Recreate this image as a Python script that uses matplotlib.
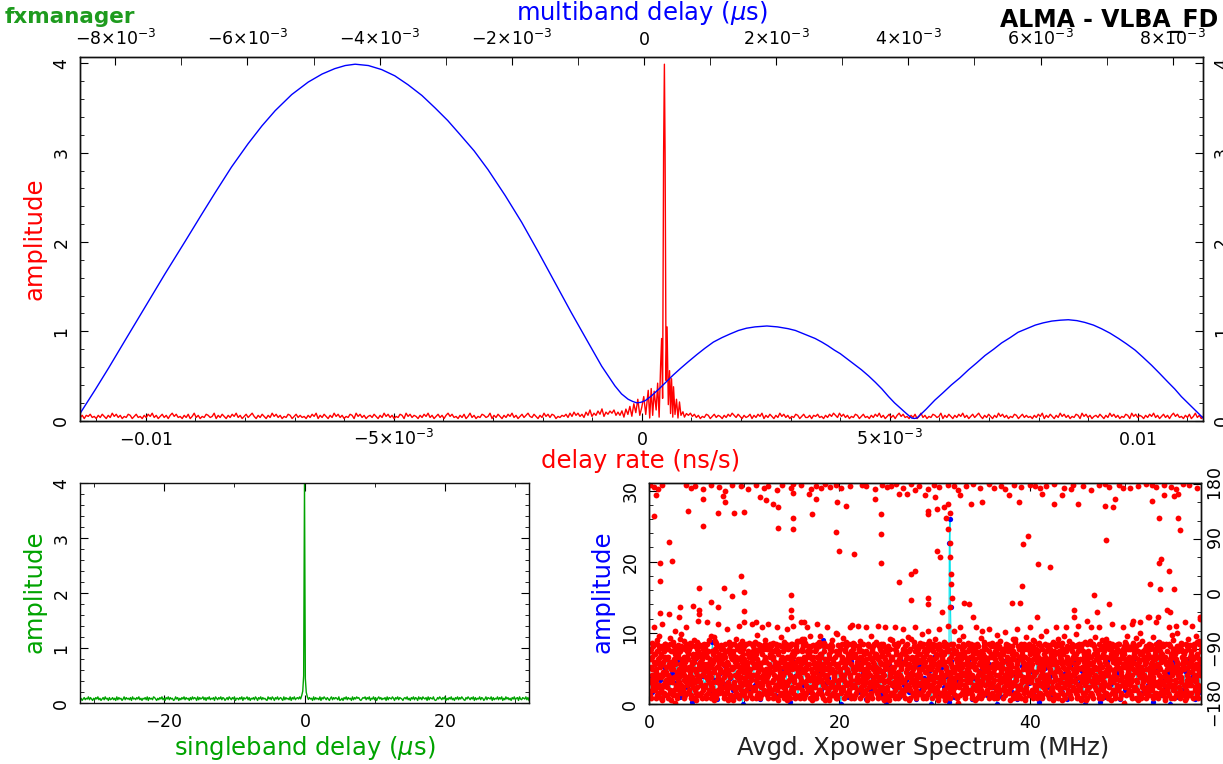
import numpy as np
import matplotlib
matplotlib.use("Agg")
import matplotlib.pyplot as plt
from matplotlib.ticker import FixedLocator, FixedFormatter, MultipleLocator

# ============================================================ data
# --- top panel, blue: multiband delay (units of 1e-3 us) vs amplitude
mbd_curve = [(-8.533, 0.08), (-8.30, 0.35), (-8.10, 0.59), (-7.85, 0.90), (-7.55, 1.27),
             (-7.25, 1.64), (-6.94, 2.01), (-6.70, 2.30), (-6.49, 2.55), (-6.24, 2.84),
             (-5.99, 3.10), (-5.78, 3.30), (-5.58, 3.47), (-5.33, 3.65), (-5.08, 3.79),
             (-4.87, 3.88), (-4.68, 3.94), (-4.52, 3.975), (-4.37, 3.99), (-4.17, 3.975),
             (-3.97, 3.93), (-3.77, 3.86), (-3.57, 3.76), (-3.36, 3.64), (-3.16, 3.50),
             (-2.97, 3.36), (-2.78, 3.20), (-2.57, 3.02), (-2.36, 2.81), (-2.10, 2.52),
             (-1.85, 2.22), (-1.60, 1.89), (-1.35, 1.55), (-1.10, 1.21), (-0.84, 0.87),
             (-0.64, 0.61), (-0.44, 0.39), (-0.34, 0.30), (-0.24, 0.24), (-0.17, 0.215),
             (-0.11, 0.20), (-0.05, 0.205), (0.02, 0.225), (0.10, 0.27), (0.22, 0.35),
             (0.33, 0.43), (0.44, 0.51), (0.56, 0.59), (0.67, 0.66), (0.80, 0.74),
             (0.92, 0.81), (1.05, 0.88), (1.18, 0.93), (1.30, 0.97), (1.43, 1.01),
             (1.55, 1.035), (1.68, 1.05), (1.86, 1.06), (2.02, 1.05), (2.18, 1.03),
             (2.29, 1.01), (2.39, 0.98), (2.49, 0.95), (2.59, 0.92), (2.69, 0.88),
             (2.78, 0.84), (2.88, 0.79), (2.97, 0.75), (3.13, 0.66), (3.29, 0.57),
             (3.40, 0.50), (3.50, 0.43), (3.60, 0.355), (3.70, 0.27), (3.79, 0.20),
             (3.88, 0.14), (3.97, 0.08), (4.05, 0.03), (4.09, 0.025), (4.13, 0.03),
             (4.20, 0.08), (4.27, 0.13), (4.40, 0.23), (4.52, 0.31), (4.65, 0.40),
             (4.78, 0.48), (4.91, 0.57), (5.03, 0.645), (5.16, 0.73), (5.29, 0.80),
             (5.41, 0.87), (5.54, 0.93), (5.66, 0.99), (5.79, 1.03), (5.92, 1.07),
             (6.04, 1.095), (6.17, 1.115), (6.30, 1.125), (6.42, 1.13), (6.55, 1.12),
             (6.67, 1.10), (6.80, 1.07), (6.92, 1.03), (7.05, 0.98), (7.18, 0.92),
             (7.30, 0.86), (7.43, 0.79), (7.55, 0.71), (7.68, 0.62), (7.80, 0.53),
             (7.93, 0.43), (8.03, 0.355), (8.13, 0.27), (8.24, 0.19), (8.35, 0.11),
             (8.46, 0.03)]

# --- top panel, red: delay rate (units of 1e-3 ns/s) vs amplitude
# noise level codes (base-36 digit * RATE_STEP) on evenly spaced delay-rate samples
RATE_STEP = 0.012
rate_left_span = (-11.32, -0.48)
rate_left_codes = (
    "352546342536425374635243652463"
    "425364735246352574634253624735"
    "243653472536425364735246357425"
    "364253746352436524635342536472"
    "536425374635243652746352453642"
    "537463524365274635425364735246"
    "352574634253624735243653472536"
    "425364735246357436425374636524"
    "354637485746385a47596b48697a58")
rate_peak = [(-0.44, 0.06), (-0.40, 0.11), (-0.36, 0.04), (-0.32, 0.13), (-0.28, 0.07),
             (-0.24, 0.16), (-0.20, 0.05), (-0.16, 0.19), (-0.12, 0.09), (-0.08, 0.24),
             (-0.04, 0.06), (0.00, 0.15), (0.04, 0.27), (0.08, 0.07), (0.13, 0.34),
             (0.16, 0.03), (0.19, 0.36), (0.22, 0.06), (0.25, 0.33), (0.29, 0.12),
             (0.32, 0.42), (0.35, 0.04), (0.38, 0.62), (0.40, 0.92), (0.42, 0.25),
             (0.44, 3.00), (0.456, 3.99), (0.47, 3.00), (0.49, 0.45), (0.51, 1.05),
             (0.535, 0.18), (0.56, 0.56), (0.58, 0.08), (0.60, 0.47), (0.625, 0.04),
             (0.64, 0.38), (0.67, 0.07), (0.70, 0.24), (0.73, 0.03), (0.76, 0.21),
             (0.79, 0.06), (0.83, 0.10), (0.86, 0.04), (0.90, 0.08)]
rate_right_span = (0.94, 11.32)
rate_right_codes = (
    "574635243652463542536475364253"
    "462536472536425374635243652463"
    "352546342536475374635243652463"
    "425364735246352574634253624735"
    "243653472536425364735246357425"
    "364253746352436524635342536472"
    "536425374635243652746352453642"
    "537463524365274635425364735246"
    "35257463425362473524")

rate_ticks = [-0.01, -0.005, 0.0, 0.005, 0.01]
rate_tick_labels = [r"$\mathregular{-0.01}$", r"$\mathregular{-5{\times}10^{-3}}$",
                    r"$\mathregular{0}$", r"$\mathregular{5{\times}10^{-3}}$",
                    r"$\mathregular{0.01}$"]
mbd_ticks = [-0.008, -0.006, -0.004, -0.002, 0.0, 0.002, 0.004, 0.006, 0.008]
mbd_tick_labels = [r"$\mathregular{-8{\times}10^{-3}}$", r"$\mathregular{-6{\times}10^{-3}}$",
                   r"$\mathregular{-4{\times}10^{-3}}$", r"$\mathregular{-2{\times}10^{-3}}$",
                   r"$\mathregular{0}$", r"$\mathregular{2{\times}10^{-3}}$",
                   r"$\mathregular{4{\times}10^{-3}}$", r"$\mathregular{6{\times}10^{-3}}$",
                   r"$\mathregular{8{\times}10^{-3}}$"]
amp4_ticks = [0, 1, 2, 3, 4]
amp4_labels = ["0", "1", "2", "3", "4"]

# --- bottom left, green: singleband delay (us) vs amplitude
SBD_STEP = 0.013
sbd_left_span = (-32.0, -0.7)
sbd_left_codes = (
    "574685769586475869574685967485"
    "685749586746958675849675869574"
    "768594867598647586957486958674"
    "596847586958674859687495867958"
    "486957684975869587468597586947"
    "758694867958476859748695867549"
    "685974869578649586759486957869")
sbd_peak = [(-0.55, 0.08), (-0.40, 0.14), (-0.25, 0.22), (-0.12, 0.50), (0.0, 4.00),
            (0.12, 0.45), (0.25, 0.20), (0.40, 0.12), (0.55, 0.07)]
sbd_right_span = (0.7, 32.0)
sbd_right_codes = (
    "867495867594869758647958687594"
    "574869586749586978546879586947"
    "695847968576849587697486958764"
    "786957486958749685976849587695"
    "458697586947586957486958697548"
    "697586948576958746958769485769"
    "586947596857486957849658769584")
sbd_ticks = [-20, 0, 20]
sbd_tick_labels = [r"$\mathregular{-20}$", r"$\mathregular{0}$", r"$\mathregular{20}$"]

# --- bottom right: averaged cross-power spectrum (MHz)
XP_SPAN = (0.05, 57.95)
XP_SPAN_B = (0.08, 57.98)
XP_AMP_STEP = 1.0 / 3.0
xp_amp_codes = (
    "c5h8a2fk6d9i3gb7e1j4hc8f5qa2d7g9b6i3e0hc5j8f2ad6gk4b9e7h1ic3f8j5a2gd6r9b4e7h0cf3i8a5jd2"
    "g6b9k4e1hf7c3i8a5dj2g6b9e0kh4f7c1i3a8gd5j2b6e9p4h7f0c3i8a5d2jg6b9e4k1hf7c3i8a5d2g6jb9e0"
    "k4h7f1c3i8a5d2g6b9jm2e5h8c1fq4a7d0gi3b6ej9c2h5")
xp_amp_spike = [(31.55, 22.6), (31.62, 26.0), (31.68, 13.6)]

# phase (deg): dense channel band, code c -> -178 + 4.2*c (two interleaved channel sets)
PH_OFFSET, PH_STEP = -178.0, 4.2
xp_phase_codes = (
    "4k8e2ib6mgaj5d9n3h7lbfa2m6gc4ki8e7h3lb9f5nd1e8k4ma0g6ic3j9d5pf7lbhc6i2ge8m4kah5l9b3nf7jd2g8m4ci6ake9d3j7hb5lfn"
    "6ma2ie4kc8gb7q3fj5d1lhk2e8ma4g6ci5h9lf3jbn7dg4c8k2mai6ed1j7n5b3hlfm6e2k8ai4gcl3h9d5nf7jb8c4ia6g2mkef5b9j3h7nld"
    "e2k6a8mg4cih9d3lb7f5nj4m8ci2ek6gan5f1jd9b3h7ag6k2e8cm4i7l3f9hbn5dji4a8e2mgk6cb7o3h9f5lnd2c8g4ek6maij9q5d1h3bf7"
    "k6c2i8a4mge5j9n3f7bd1hga4m8e2ic6kl7d3h9b5frj2e8k6cm4gaih5b9lf3n7djc4g8a2ki6me7n3jd9f5bhlm2i6e8ka4cgd9h5b1nf3j7"
    "8e4k2gma6cijb7n3h5d9lfa6c2m8i4ekg5f9jd1lb3h7ic4e8a2gk6mn7h3b9djf5l4g8m2c6aikef1l5hp9b3d7e6k2ia8mg4cbj7d3h5n9fl"
    "g2c8ke4am6i7d5l9nbh3fji6a2e8gm4kc3h9f5jb1nd7m4k8c2gai6el5s9d3h7jbf0a6g8ic4emkj7b3f9dh5nlc8i4m2ak6geh1d5n9bj3f7"
    "6k2e8gc4miafl5h9d7nb3ja4i8c2mek6gn3j7b9f5dhle2g6k8am4ci9d5h1lbf7j3k8c4ea2g6mi3b7nh9jd5fli2m6a8ec4gkld9f5h3bo7j"
    "c6g2ik8ea4mh3l7dj9n5bfm8a4e2ckig65f1bh9j3nd7g2k6ci8ma4ejq3d7bl9h5f4e8a2gkm6icb9f5jh3d7lna6m2e8k4gic7h1n5dj9bf3"
    "i4c8g2mae6kd9j5hn3fl7be2a6k8gc4imf7b3l9dj1nh8m4c2iga6ke5n9hd3bj7flk0e6ag8mc4ih7l3fb9nd5j6i2mc8ek4gar3d7jh9b5lf"
    "2g6k4ma8ecib5f9d3ljh7nc8i2e6k4agmj3n7h1bf9d5a4e8gm2ic6k7l5j9h3drbfm6c2a8kige4d1h5n9bl3f7g8k4c2eam6if9j3d7hnb5l")
xp_phase_codes_b = (
    "h3l9d5n7bjf8c2k6ga4mie5j1fb7l3nh9c6m2ia8e4kgn9d3h5jf7lb2i6a8kcm4gef5b9l3hn7djk4e8c2mgai69h5d1jbln3fa8g4m2ie6ck"
    "l7j3fnd9b5he2a6kg8c4oi3n9h5bfjd7lg8m4ca2i6ekd5f1l7jb3nh6k2e8gi4amcb9h3n5ld7fjm4c8a2ge6ki7d3j9nhb5lfi6e2k8cga4m"
    "f3d7jb9l5nh4g8a2mc6iekj5n9h3bdf7la2k6e8gcm4i9b3l7h5nf1dc8i4m2ea6gk5j9f3lndb7he6a2g8kc4mip3h7d9b5jlfk2m6c4ia8ge"
    "7l3n9fd5hbji4c8e2kma6gd9b5h1jfl3nm8g4a6ick2e3f7j9dlb5hna6e2k8mgc4ih5n3b9fj7ld2c6i4eag8mkl9d5f3hnb7jg4k8a2ecm6i"
    "b3h7l9dnf5je8c4a2img6kn5j9f1bhd3l6k2m8gcai4eh7d3n5lbj9fc2g6i4aeo8k3l9j5fhdn7bk6a2e8ic4gmf9b5h3jl7dna4m8g2eki6c"
    "j7n3d9hb5lfg2e6k8ac4mi5d1l7nfj9b3i8a4m2gek6cl3h9b5fn7jd4c8e6ak2gmid7j3h9lb5nfm2i6c4gk8ae9f5n3bhj7lde6k2a8mci4g"
    "h5b9j3lfn7da4g8c2kie6mn7f3d9hjb5l2e6m4iac8gkj9l5b3dnh7fk4a8g6emc2i3h7p9jfdb5lc6i2m8kga4ef1d5l9bh3njg8e4a2mkc6i"
    "l5j9n3hdf7bm2c6e8gia4kb7h3f9ldj5n8i4k2acmg6ed3n9j5bhf1le6g2a8kmi4c7f3b9lhnd5ji8m4c2egk6ah5l1n9dbj3f4a8e2gkc6oi"
    "n3f7d9jbl5hk8a4g2cei6m9j5l3hnf7dbc2e6i8mak4g5b9d3fj7lhng6k2c4ai8emj7h3n9bld5fa4e8m2gik6cl9f5d1hbn3je2c6k8ia4gm"
    "d5h9j3nlb7f6g2a8ekci4mf3l7b9djh5nm8c4i2agk6e7n3h9jfbd5li2e6c8gm4kab5d9l3nfh7jk6g2m8aec4i3j7f9hdln5ba8i4e2cog6k")
# sparse phase points (MHz, deg)
xp_phase_top = [(0.09, 178), (0.5, 175), (0.9, 172), (1.4, 179), (3.9, 178), (4.4, 174), (4.8, 177),
                (5.7, 171), (6.5, 179), (7.4, 175), (8.0, 168), (8.7, 179), (9.7, 177), (10.4, 172),
                (11.2, 179), (12.1, 173), (12.5, 176), (13.4, 170), (14.0, 178), (14.9, 174),
                (15.1, 180), (16.0, 179), (17.0, 172), (17.5, 177), (18.1, 173), (18.5, 180),
                (19.0, 175), (19.6, 178), (20.2, 173), (21.1, 177), (22.4, 179), (22.8, 176),
                (23.7, 171), (24.5, 179), (25.0, 175), (25.4, 177), (26.0, 180), (26.7, 174),
                (27.5, 180), (28.0, 170), (28.4, 176), (29.3, 172), (29.9, 178), (30.5, 175),
                (31.4, 179), (32.0, 176), (32.5, 170), (33.3, 177), (34.0, 180), (34.8, 174),
                (35.7, 180), (36.3, 173), (37.0, 176), (37.4, 171), (38.3, 178), (39.1, 175),
                (40.0, 179), (40.6, 176), (41.1, 173), (41.7, 177), (42.6, 180), (43.6, 174),
                (44.3, 171), (44.5, 178), (45.6, 176), (46.4, 170), (47.3, 179), (47.9, 180),
                (48.3, 175), (49.4, 178), (49.8, 174), (50.5, 173), (51.4, 177), (52.2, 180),
                (52.9, 179), (53.3, 175), (54.1, 178), (54.8, 175), (55.4, 172), (56.1, 180),
                (56.7, 179), (57.6, 174)]
xp_phase_high = [(0.7, 162), (5.7, 156), (7.8, 161), (8.0, 150), (11.7, 158), (12.3, 153),
                 (13.0, 147), (13.6, 142), (15.1, 165), (16.8, 163), (17.5, 155), (19.8, 150),
                 (20.7, 144), (23.7, 155), (26.3, 163), (27.1, 164), (29.0, 162), (29.3, 136),
                 (30.1, 158), (30.3, 139), (31.0, 142), (31.4, 147), (31.6, 133), (32.7, 162),
                 (33.8, 147), (35.0, 150), (37.8, 162), (38.9, 150), (41.3, 164), (42.6, 147),
                 (43.4, 162), (45.1, 147), (47.9, 144), (48.8, 142), (49.0, 155), (52.9, 152),
                 (54.1, 162), (55.2, 160), (55.6, 164),
                 (0.5, 127), (4.1, 136), (5.7, 111), (7.2, 133), (8.9, 133), (10.0, 134),
                 (13.6, 108), (15.1, 125), (15.1, 106), (17.1, 131), (19.6, 101), (24.4, 131),
                 (24.4, 98), (29.3, 131), (31.2, 125), (31.4, 106), (39.8, 94), (53.6, 125),
                 (55.6, 124), (55.8, 105)]
xp_phase_mid = [(20.0, 71), (21.5, 66), (30.3, 70), (30.6, 60), (31.6, 84), (31.6, 60), (31.7, 32),
                (31.7, 16), (31.8, -7), (31.6, -22), (39.3, 82), (40.9, 49), (48.0, 89), (53.8, 57),
                (53.6, 50), (54.6, 38), (55.2, 8), (53.7, 8), (52.6, 16), (1.2, 50), (1.2, 22),
                (2.1, 85), (2.4, 54), (1.2, -31), (3.3, -22), (2.1, -33), (3.1, -37), (4.6, -19),
                (5.3, 9), (5.3, -27), (5.3, -32), (6.5, -13), (7.2, -22), (7.9, 10), (8.7, -3),
                (9.7, 30), (10.0, 4), (10.0, -28), (11.2, -46), (14.9, -1), (14.9, -27),
                (14.9, -38), (16.0, -46), (21.3, -51), (24.4, 50), (26.3, 20), (27.5, 32),
                (27.5, -10), (28.0, 38), (29.3, -6), (29.3, -16), (30.8, -29), (33.1, -15),
                (33.6, -16), (34.0, -37), (38.1, -15), (39.0, -15), (39.2, 13), (40.8, -38),
                (42.1, 44), (44.7, -27), (44.7, -38), (46.8, -2), (47.1, -30), (48.3, -16),
                (50.9, -45), (52.5, -37), (53.5, -38), (54.4, -27), (54.7, -29), (57.9, -38)]
xp_phase_edge = [(0.5, -54), (1.4, -49), (2.7, -60), (3.9, -54), (5.2, -44), (6.1, -46), (7.2, -49),
                 (8.2, -57), (9.5, -52), (10.0, -46), (10.8, -49), (11.9, -54), (12.5, -49),
                 (13.4, -54), (14.5, -57), (15.1, -52), (16.3, -46), (16.6, -54), (17.7, -49),
                 (18.7, -54), (19.8, -65), (21.1, -54), (22.0, -52), (22.8, -54), (24.1, -52),
                 (24.8, -54), (25.8, -54), (26.7, -57), (28.0, -54), (29.3, -60), (30.5, -57),
                 (31.4, -52), (32.7, -54), (34.4, -54), (35.0, -60), (35.7, -57), (37.4, -63),
                 (38.7, -57), (40.0, -54), (41.7, -60), (42.8, -54), (43.8, -54), (45.1, -52),
                 (46.0, -44), (46.4, -54), (47.3, -54), (48.6, -49), (49.8, -54), (50.7, -49),
                 (51.6, -46), (52.4, -38), (53.3, -46), (54.6, -54), (55.4, -52), (56.3, -46),
                 (57.1, -52), (57.9, -41),
                 (1.0, -68), (2.2, -72), (3.4, -66), (4.7, -75), (6.8, -70), (9.1, -73),
                 (11.4, -67), (13.9, -71), (16.1, -74), (18.0, -69), (20.4, -72), (23.3, -68),
                 (25.3, -74), (27.2, -70), (28.7, -66), (30.0, -73), (33.0, -69), (34.9, -72),
                 (36.6, -67), (38.2, -74), (39.6, -70), (41.2, -68), (43.0, -73), (44.9, -66),
                 (46.9, -71), (48.0, -74), (50.2, -68), (51.2, -72), (53.0, -70), (55.0, -67),
                 (56.6, -73), (57.5, -69)]
xp_phase_ragged = [(0.3, -80), (0.8, -76), (1.7, -82), (2.5, -78), (3.0, -84), (3.7, -77),
                   (4.3, -81), (5.0, -79), (5.6, -83), (6.3, -76), (7.0, -80), (7.6, -84),
                   (8.4, -78), (8.9, -82), (9.8, -77), (10.5, -81), (11.1, -79), (11.7, -84),
                   (12.2, -76), (13.0, -80), (13.7, -83), (14.2, -78), (15.0, -82), (15.6, -77),
                   (16.4, -80), (17.2, -84), (17.9, -78), (18.4, -81), (19.2, -76), (19.9, -83),
                   (20.7, -79), (21.4, -81), (22.2, -77), (23.0, -84), (23.8, -79), (24.6, -82),
                   (25.5, -76), (26.2, -80), (27.0, -83), (27.8, -78), (28.5, -81), (29.4, -77),
                   (30.2, -84), (31.0, -79), (31.9, -82), (32.6, -76), (33.5, -80), (34.2, -83),
                   (35.2, -78), (36.0, -81), (36.9, -77), (37.7, -84), (38.5, -79), (39.4, -82),
                   (40.3, -76), (41.0, -80), (41.9, -83), (42.5, -78), (43.4, -81), (44.1, -77),
                   (45.0, -84), (45.8, -79), (46.6, -82), (47.6, -76), (48.3, -80), (49.1, -83),
                   (50.0, -78), (50.9, -81), (51.8, -77), (52.7, -84), (53.6, -79), (54.3, -82),
                   (55.1, -76), (55.9, -80), (56.8, -83), (57.6, -78)]
xp_ticks = [0, 20, 40]
xp_tick_labels = ["0", "20", "40"]
xp_amp_ticks = [0, 10, 20, 30]
xp_amp_labels = ["0", "10", "20", "30"]
phase_ticks = [-180, -90, 0, 90, 180]
phase_tick_labels = [r"$\mathregular{-180}$", r"$\mathregular{-90}$", r"$\mathregular{0}$",
                     r"$\mathregular{90}$", r"$\mathregular{180}$"]

# ============================================================ helpers
def decode(codes, scale, offset=0.0):
    return np.array([int(c, 36) for c in codes], dtype=float) * scale + offset

def pairs(lst):
    a = np.array(lst, dtype=float)
    return a[:, 0], a[:, 1]

W, H, DPI = 1223, 764, 100
fig = plt.figure(figsize=(W / DPI, H / DPI), dpi=DPI)
fig.patch.set_facecolor("white")

def add_axes_px(left, top, right, bottom):
    return fig.add_axes([left / W, 1 - bottom / H, (right - left) / W, (bottom - top) / H])

TICK_FS = 12.5
LABEL_FS = 17.5
MAJ, MIN = 5.8, 2.9
GREEN = "#00a300"
RED, BLUE = "#ff0000", "#0000ff"

def spines(ax):
    for s in ax.spines.values():
        s.set_linewidth(1.0)
        s.set_color("#111111")

def set_va(ax, axis, va1=None, va2=None):
    a = ax.xaxis if axis == "x" else ax.yaxis
    for t in a.get_major_ticks():
        if va1:
            t.label1.set_va(va1)
        if va2:
            t.label2.set_va(va2)

# ============================================================ top panel
rl = decode(rate_left_codes, RATE_STEP)
rr = decode(rate_right_codes, RATE_STEP)
pkx, pky = pairs(rate_peak)
rate_x = np.concatenate([np.linspace(*rate_left_span, len(rl)), pkx,
                         np.linspace(*rate_right_span, len(rr))]) * 1e-3
rate_amp = np.concatenate([rl, pky, rr])
mbx, mby = pairs(mbd_curve)

ax1 = add_axes_px(80, 57.5, 1203.3, 420.7)
ax1.plot(rate_x, rate_amp, color=RED, lw=1.0, zorder=3)
ax1t = ax1.twiny()
ax1t.plot(mbx * 1e-3, mby, color=BLUE, lw=1.0)
ax1.set_xlim(-0.011325, 0.01132)
ax1t.set_xlim(-8.533e-3, 8.462e-3)
ax1.set_ylim(0, 4.065)

ax1.xaxis.set_major_locator(FixedLocator(rate_ticks))
ax1.xaxis.set_major_formatter(FixedFormatter(rate_tick_labels))
ax1.xaxis.set_minor_locator(MultipleLocator(0.001))
ax1.yaxis.set_major_locator(FixedLocator(amp4_ticks))
ax1.yaxis.set_major_formatter(FixedFormatter(amp4_labels))
ax1.yaxis.set_minor_locator(MultipleLocator(0.2))
ax1.tick_params(axis="x", which="both", direction="in", bottom=True, top=False,
                labelbottom=True, labeltop=False, labelsize=TICK_FS, pad=17.5)
ax1.tick_params(axis="y", which="both", direction="in", left=True, right=True,
                labelleft=True, labelright=True, labelrotation=90, labelsize=TICK_FS, pad=7)
ax1.tick_params(which="major", length=MAJ)
ax1.tick_params(which="minor", length=MIN)
set_va(ax1, "x", va1="baseline")
set_va(ax1, "y", va1="center", va2="center")

ax1t.xaxis.set_major_locator(FixedLocator(mbd_ticks))
ax1t.xaxis.set_major_formatter(FixedFormatter(mbd_tick_labels))
ax1t.xaxis.set_minor_locator(MultipleLocator(0.001))
ax1t.tick_params(axis="x", which="both", direction="in", top=True, bottom=False,
                 labeltop=True, labelbottom=False, labelsize=TICK_FS, pad=9, length=MAJ)
set_va(ax1t, "x", va2="baseline")
spines(ax1); spines(ax1t)

# ============================================================ bottom left
sl = decode(sbd_left_codes, SBD_STEP)
sr = decode(sbd_right_codes, SBD_STEP)
spx, spy = pairs(sbd_peak)
sbd_x = np.concatenate([np.linspace(*sbd_left_span, len(sl)), spx,
                        np.linspace(*sbd_right_span, len(sr))])
sbd_amp = np.concatenate([sl, spy, sr])

ax2 = add_axes_px(80, 482.7, 529, 703.3)
ax2.plot(sbd_x, sbd_amp, color=GREEN, lw=1.0)
ax2.set_xlim(-32, 32)
ax2.set_ylim(0, 4.01)
ax2.xaxis.set_major_locator(FixedLocator(sbd_ticks))
ax2.xaxis.set_major_formatter(FixedFormatter(sbd_tick_labels))
ax2.xaxis.set_minor_locator(MultipleLocator(10))
ax2.yaxis.set_major_locator(FixedLocator(amp4_ticks))
ax2.yaxis.set_major_formatter(FixedFormatter(amp4_labels))
ax2.yaxis.set_minor_locator(MultipleLocator(0.2))
ax2.tick_params(which="both", direction="in", top=True, right=True, labelsize=TICK_FS)
ax2.tick_params(axis="x", pad=17)
ax2.tick_params(axis="y", labelrotation=90, pad=7)
ax2.tick_params(which="major", length=MAJ)
ax2.tick_params(which="minor", length=MIN)
set_va(ax2, "x", va1="baseline")
set_va(ax2, "y", va1="center")
spines(ax2)

# ============================================================ bottom right
amp_codes = decode(xp_amp_codes, XP_AMP_STEP)
ax_x = np.linspace(*XP_SPAN, len(amp_codes))
skx, sky = pairs(xp_amp_spike)
xp_x = np.concatenate([ax_x, skx])
xp_a = np.concatenate([amp_codes, sky])
order = np.argsort(xp_x)
xp_x, xp_a = xp_x[order], xp_a[order]

ph_a = decode(xp_phase_codes, PH_STEP, PH_OFFSET)
ph_b = decode(xp_phase_codes_b, PH_STEP, PH_OFFSET)
ph_band_x = np.concatenate([np.linspace(*XP_SPAN, len(ph_a)), np.linspace(*XP_SPAN_B, len(ph_b))])
ph_band = np.concatenate([ph_a, ph_b])
ox, oy = pairs(xp_phase_top + xp_phase_high + xp_phase_mid + xp_phase_edge + xp_phase_ragged)

ax3 = add_axes_px(649, 482.7, 1201, 704)
ax3.plot(xp_x, xp_a, color="#00e5ee", lw=0.8, zorder=2)
ax3.plot(xp_x, xp_a, "o", color=BLUE, ms=3.8, mew=0, zorder=3)
ax3r = ax3.twinx()
ax3r.plot(ph_band_x, ph_band, "o", color=RED, ms=4.2, mew=0)
ax3r.plot(ox, oy, "o", color=RED, ms=4.2, mew=0)
ax3.set_xlim(0, 58)
ax3.set_ylim(0, 31.1)
ax3r.set_ylim(-180, 182)

ax3.xaxis.set_major_locator(FixedLocator(xp_ticks))
ax3.xaxis.set_major_formatter(FixedFormatter(xp_tick_labels))
ax3.xaxis.set_minor_locator(MultipleLocator(10))
ax3.yaxis.set_major_locator(FixedLocator(xp_amp_ticks))
ax3.yaxis.set_major_formatter(FixedFormatter(xp_amp_labels))
ax3.yaxis.set_minor_locator(MultipleLocator(2))
ax3.tick_params(which="both", direction="in", top=True, bottom=True, left=True, right=False,
                labelsize=TICK_FS)
ax3.tick_params(axis="x", pad=17)
ax3.tick_params(axis="y", labelrotation=90, pad=7)
ax3.tick_params(which="major", length=MAJ)
ax3.tick_params(which="minor", length=MIN)
set_va(ax3, "x", va1="baseline")
set_va(ax3, "y", va1="center")

ax3r.yaxis.set_major_locator(FixedLocator(phase_ticks))
ax3r.yaxis.set_major_formatter(FixedFormatter(phase_tick_labels))
ax3r.yaxis.set_minor_locator(MultipleLocator(30))
ax3r.tick_params(axis="y", which="both", direction="in", right=True, labelright=True,
                 labelrotation=90, labelsize=TICK_FS, pad=4)
ax3r.tick_params(which="major", length=MAJ)
ax3r.tick_params(which="minor", length=MIN)
set_va(ax3r, "y", va2="center")
spines(ax3); spines(ax3r)

# ============================================================ texts
fig.text(5 / W, 1 - 23 / H, "fxmanager", color="#1e9b1e", fontsize=15.5,
         fontweight="bold", ha="left", va="baseline")
fig.text(1000 / W, 1 - 27 / H, "ALMA - VLBA_FD", color="black", fontsize=17,
         fontweight="bold", ha="left", va="baseline")
fig.text(642 / W, 1 - 13 / H, r"multiband delay ($\mu$s)", color=BLUE, fontsize=LABEL_FS,
         ha="center", va="center")
fig.text(641 / W, 1 - 461 / H, "delay rate (ns/s)", color=RED, fontsize=LABEL_FS,
         ha="center", va="center")
fig.text(35 / W, 1 - 239 / H, "amplitude", color=RED, fontsize=LABEL_FS, rotation=90,
         ha="center", va="center")
fig.text(35 / W, 1 - 592 / H, "amplitude", color=GREEN, fontsize=LABEL_FS, rotation=90,
         ha="center", va="center")
fig.text(603 / W, 1 - 592 / H, "amplitude", color=BLUE, fontsize=LABEL_FS, rotation=90,
         ha="center", va="center")
fig.text(305 / W, 1 - 748 / H, r"singleband delay ($\mu$s)", color=GREEN, fontsize=LABEL_FS,
         ha="center", va="center")
fig.text(923 / W, 1 - 748 / H, "Avgd. Xpower Spectrum (MHz)", color="#222222",
         fontsize=LABEL_FS, ha="center", va="center")

fig.savefig("out.png", dpi=DPI)
